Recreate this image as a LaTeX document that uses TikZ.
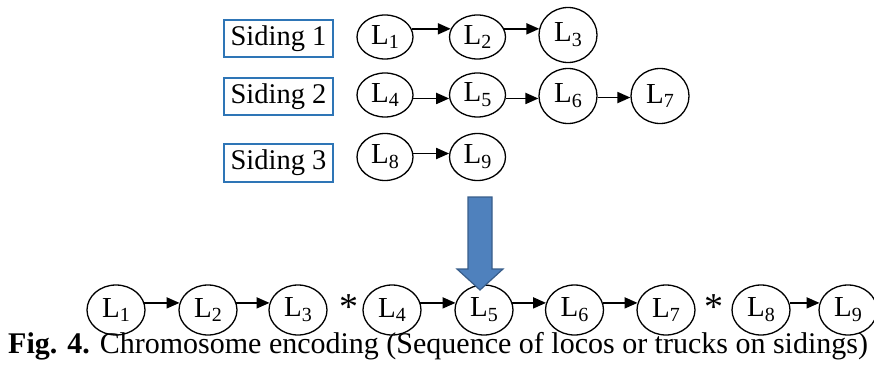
\documentclass[tikz,border=0pt]{standalone}
\usepackage{fontspec}
\setmainfont{Liberation Serif}
\usetikzlibrary{shapes.geometric,arrows.meta}
\definecolor{sidingblue}{HTML}{2E75B6}
\definecolor{arrowfill}{HTML}{4F81BD}
\definecolor{arrowedge}{HTML}{385D8A}
\tikzset{
  loco/.style={ellipse, draw=black, line width=1.3pt, inner sep=0pt,
    minimum width=56pt, minimum height=44pt,
    font=\fontsize{29}{30}\selectfont},
  bigloco/.style={loco, minimum width=58pt, minimum height=55pt},
  rowloco/.style={loco, minimum width=58pt, minimum height=50pt},
  sidingbox/.style={rectangle, draw=sidingblue, line width=2pt,
    minimum width=109pt, minimum height=37pt, inner sep=0pt,
    font=\fontsize{28.5}{30}\selectfont},
  link/.style={line width=1.9pt, -{Triangle[length=13pt,width=11pt]}},
  sep/.style={font=\fontsize{38}{38}\selectfont, inner sep=0pt}
}
% locomotive label with a large, slightly lowered index
\newcommand{\Lsub}[1]{L\raisebox{-0.17em}{\fontsize{20}{20}\selectfont #1}}
\begin{document}
\begin{tikzpicture}[x=1pt,y=-1pt]
\useasboundingbox (0,0) rectangle (874,366);

% sidings
\node[sidingbox] (s1) at (278.5,38.5) {Siding 1};
\node[sidingbox] (s2) at (278.5,97) {Siding 2};
\node[sidingbox] (s3) at (278.5,163) {Siding 3};

% locos on each siding
\node[loco] (t1) at (385,37) {\Lsub{1}};
\node[loco] (t2) at (477.5,37) {\Lsub{2}};
\node[bigloco] (t3) at (568,35) {\Lsub{3}};
\node[loco] (t4) at (385,95) {\Lsub{4}};
\node[loco] (t5) at (477.5,95) {\Lsub{5}};
\node[bigloco] (t6) at (568,96) {\Lsub{6}};
\node[bigloco] (t7) at (660,96) {\Lsub{7}};
\node[loco, minimum height=47pt] (t8) at (385,157) {\Lsub{8}};
\node[loco, minimum height=47pt] (t9) at (477.5,157) {\Lsub{9}};

% couplings run level, a little off the centre line
\draw[link] (t1.17) -- (t1.17 -| t2.163);
\draw[link] (t2.17) -- (t2.17 -| t3.166);
\draw[link] (t4.-7) -- (t4.-7 -| t5.187);
\draw[link] (t5.-7) -- (t5.-7 -| t6.184);
\draw[link] (t6.-3) -- (t6.-3 -| t7.183);
\draw[link] (t8.7) -- (t8.7 -| t9.173);

% chromosome row
\node[rowloco] (b1) at (116,310) {\Lsub{1}};
\node[rowloco] (b2) at (208,310) {\Lsub{2}};
\node[rowloco] (b3) at (298,310) {\Lsub{3}};
\node[sep] (x1) at (349,307) {*};
\node[rowloco] (b4) at (392,310) {\Lsub{4}};
\node[rowloco] (b5) at (484,310) {\Lsub{5}};
\node[rowloco] (b6) at (574.5,310) {\Lsub{6}};
\node[rowloco] (b7) at (666,310) {\Lsub{7}};
\node[sep] (x2) at (714,307) {*};
\node[rowloco] (b8) at (761,310) {\Lsub{8}};
\node[rowloco] (b9) at (848,310) {\Lsub{9}};

\draw[link] (b1.14) -- (b1.14 -| b2.166);
\draw[link] (b2.14) -- (b2.14 -| b3.166);
\draw[link] (b4.14) -- (b4.14 -| b5.166);
\draw[link] (b5.14) -- (b5.14 -| b6.166);
\draw[link] (b6.14) -- (b6.14 -| b7.166);
\draw[link] (b8.14) -- (b8.14 -| b9.166);

% block arrow from sidings to chromosome
\filldraw[fill=arrowfill, draw=arrowedge, line width=1.2pt]
  (468,197) -- (492,197) -- (492,269) -- (503,269) -- (480,290)
  -- (457,269) -- (468,269) -- cycle;

% caption
\node[anchor=base west, inner sep=0pt, font=\fontsize{30}{32}\selectfont]
  (cap) at (8,353) {\textbf{Fig. 4.} Chromosome encoding (Sequence of locos or trucks on sidings)};
\end{tikzpicture}
\end{document}
